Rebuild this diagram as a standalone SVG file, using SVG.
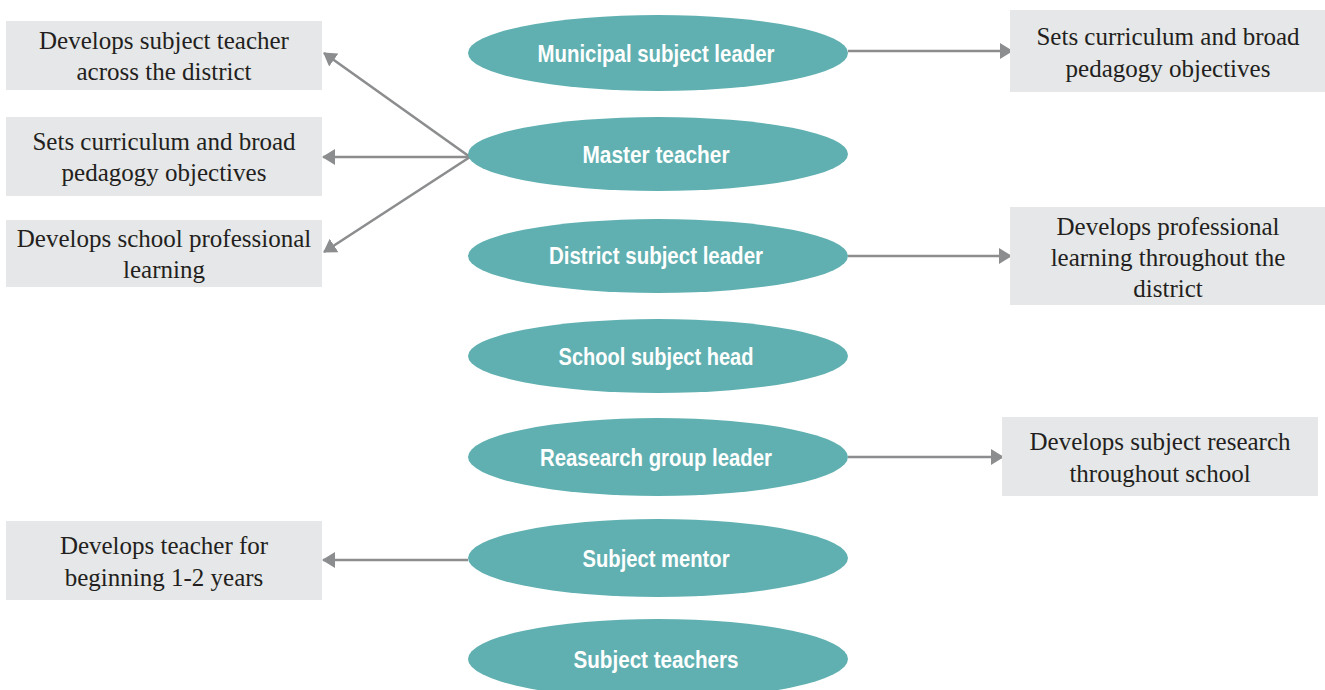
<svg xmlns="http://www.w3.org/2000/svg" width="1325" height="690" viewBox="0 0 1325 690">
<defs>
<style>
.ell{fill:#60b0b1}
.lbl{font-family:"Liberation Sans",Arial,sans-serif;font-weight:bold;font-size:23px;fill:#ffffff;text-anchor:middle}
.box{fill:#e6e7e8}
.bt{font-family:"Liberation Serif","Times New Roman",serif;font-size:25px;fill:#231f20;text-anchor:middle}
.con{stroke:#8c8d8f;stroke-width:2.6;fill:none;marker-end:url(#ah)}
</style>
<marker id="ah" markerUnits="userSpaceOnUse" markerWidth="14" markerHeight="16" refX="12" refY="8" orient="auto">
<path d="M0,0 L13,8 L0,16 Z" fill="#8c8d8f"/>
</marker>
</defs>
<rect width="1325" height="690" fill="#ffffff"/>
<g id="connectors">
<line class="con" x1="470" y1="157" x2="324" y2="53"/>
<line class="con" x1="470" y1="157" x2="323" y2="157"/>
<line class="con" x1="470" y1="157" x2="324" y2="252"/>
<line class="con" x1="848" y1="51" x2="1012" y2="51"/>
<line class="con" x1="848" y1="256" x2="1011" y2="256"/>
<line class="con" x1="848" y1="457" x2="1003" y2="457"/>
<line class="con" x1="468" y1="560" x2="323" y2="560"/>
</g>
<g id="n-municipal"><ellipse class="ell" cx="658" cy="53" rx="190" ry="38"/><text class="lbl" x="656" y="62" textLength="237" lengthAdjust="spacingAndGlyphs">Municipal subject leader</text></g>
<g id="n-master"><ellipse class="ell" cx="658" cy="154" rx="190" ry="37"/><text class="lbl" x="656" y="163" textLength="147" lengthAdjust="spacingAndGlyphs">Master teacher</text></g>
<g id="n-district"><ellipse class="ell" cx="658" cy="256" rx="190" ry="37"/><text class="lbl" x="656" y="264" textLength="214" lengthAdjust="spacingAndGlyphs">District subject leader</text></g>
<g id="n-school"><ellipse class="ell" cx="658" cy="356" rx="190" ry="37"/><text class="lbl" x="656" y="365" textLength="195" lengthAdjust="spacingAndGlyphs">School subject head</text></g>
<g id="n-research"><ellipse class="ell" cx="658" cy="457" rx="190" ry="39"/><text class="lbl" x="656" y="466" textLength="232" lengthAdjust="spacingAndGlyphs">Reasearch group leader</text></g>
<g id="n-mentor"><ellipse class="ell" cx="658" cy="558" rx="190" ry="39"/><text class="lbl" x="656" y="567" textLength="147" lengthAdjust="spacingAndGlyphs">Subject mentor</text></g>
<g id="n-teachers"><ellipse class="ell" cx="658" cy="659" rx="190" ry="40"/><text class="lbl" x="656" y="668" textLength="165" lengthAdjust="spacingAndGlyphs">Subject teachers</text></g>
<g id="b-left1"><rect class="box" x="6" y="21" width="316" height="69"/><text class="bt" x="164" y="49">Develops subject teacher</text><text class="bt" x="164" y="80">across the district</text></g>
<g id="b-left2"><rect class="box" x="6" y="117" width="316" height="79"/><text class="bt" x="164" y="150">Sets curriculum and broad</text><text class="bt" x="164" y="181">pedagogy objectives</text></g>
<g id="b-left3"><rect class="box" x="6" y="220" width="316" height="67"/><text class="bt" x="164" y="247">Develops school professional</text><text class="bt" x="164" y="278">learning</text></g>
<g id="b-left4"><rect class="box" x="6" y="521" width="316" height="79"/><text class="bt" x="164" y="554">Develops teacher for</text><text class="bt" x="164" y="586">beginning 1-2 years</text></g>
<g id="b-right1"><rect class="box" x="1010" y="10" width="315" height="82"/><text class="bt" x="1168" y="45">Sets curriculum and broad</text><text class="bt" x="1168" y="77">pedagogy objectives</text></g>
<g id="b-right2"><rect class="box" x="1010" y="207" width="315" height="98"/><text class="bt" x="1168" y="235">Develops professional</text><text class="bt" x="1168" y="266">learning throughout the</text><text class="bt" x="1168" y="297">district</text></g>
<g id="b-right3"><rect class="box" x="1002" y="417" width="316" height="79"/><text class="bt" x="1160" y="450">Develops subject research</text><text class="bt" x="1160" y="482">throughout school</text></g>
</svg>
